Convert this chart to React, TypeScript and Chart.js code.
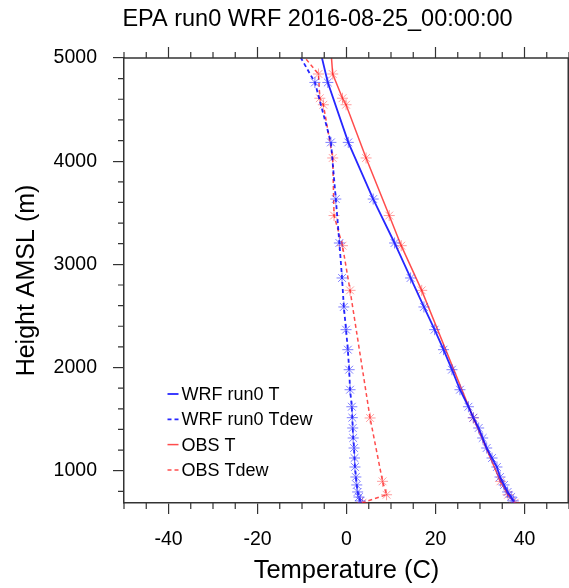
import React, { useEffect, useRef } from "react";
import { Chart, registerables } from "chart.js";

Chart.register(...registerables);

// ---- data ----
const chartTitle = "EPA run0 WRF 2016-08-25_00:00:00";
const xAxisTitle = "Temperature (C)";
const yAxisTitle = "Height AMSL (m)";

const xTickValues = [-40, -20, 0, 20, 40];
const yTickValues = [1000, 2000, 3000, 4000, 5000];

const wrfHeights = [5360, 4763, 4182, 3633, 3207, 2868, 2587, 2367, 2173, 1979, 1785, 1620, 1514, 1414, 1317, 1220, 1123, 1036, 939, 862, 794, 745, 707];
const wrfT = [-7.5, -4.2, 0.4, 6.0, 10.8, 14.4, 17.4, 19.8, 21.8, 23.7, 25.5, 27.4, 28.5, 29.7, 30.6, 31.5, 32.7, 33.8, 34.5, 35.4, 36.2, 37.0, 37.5];
const wrfTdew = [-15.0, -7.1, -3.5, -2.4, -1.6, -1.0, -0.6, -0.1, 0.3, 0.6, 0.8, 1.2, 1.3, 1.4, 1.5, 1.7, 1.8, 1.9, 2.1, 2.3, 2.5, 2.8, 3.1];

const obsHeights = [5300, 4845, 4610, 4547, 4031, 3473, 3181, 2748, 1511, 897, 767, 690];
const obsT = [-3.9, -3.1, -0.9, -0.1, 4.4, 9.6, 12.3, 16.9, 28.5, 34.6, 36.3, 37.8];
const obsTdew = [-15.1, -6.3, -6.0, -5.2, -3.1, -2.8, -0.9, 0.8, 5.3, 8.1, 9.0, 3.6];

const seriesLabels = ["WRF run0 T", "WRF run0 Tdew", "OBS T", "OBS Tdew"];

const FONT = "'Liberation Sans', Arial, Helvetica, sans-serif";

const toPoints = (xs: number[], hs: number[]) => hs.map((h, i) => ({ x: xs[i], y: h }));

const decorPlugin = {
  id: "decor",
  afterDraw(chart: any) {
    const ctx = chart.ctx;
    const { left, right, top, bottom } = chart.chartArea;
    const xs = chart.scales.x;
    const ys = chart.scales.y;
    ctx.save();
    ctx.strokeStyle = "#333";
    ctx.lineWidth = 1.5;
    // frame top/right
    ctx.beginPath();
    ctx.moveTo(left, top);
    ctx.lineTo(right, top);
    ctx.moveTo(right - 0.75, top);
    ctx.lineTo(right - 0.75, bottom);
    ctx.stroke();
    ctx.lineWidth = 1.2;
    ctx.beginPath();
    // x ticks: majors on top, minors top and bottom
    for (let v = -50; v <= 50; v += 5) {
      const px = xs.getPixelForValue(v);
      const major = v % 20 === 0;
      const len = major ? 11 : 6;
      ctx.moveTo(px, top);
      ctx.lineTo(px, top - len);
      if (!major) {
        ctx.moveTo(px, bottom);
        ctx.lineTo(px, bottom + len);
      }
    }
    // y ticks: minors left and right, majors right
    for (let v = 800; v <= 5000; v += 200) {
      const py = ys.getPixelForValue(v);
      const major = v % 1000 === 0;
      const len = major ? 11 : 6;
      ctx.moveTo(right, py);
      ctx.lineTo(right + len, py);
      if (!major) {
        ctx.moveTo(left, py);
        ctx.lineTo(left - len, py);
      }
    }
    ctx.stroke();

    // title
    ctx.fillStyle = "#000";
    ctx.font = `23.5px ${FONT}`;
    ctx.textAlign = "center";
    ctx.textBaseline = "middle";
    ctx.fillText(chartTitle, 317.5, 20);

    // legend
    ctx.font = `18px ${FONT}`;
    ctx.textAlign = "left";
    const x0 = 167.5, x1 = 178.5, tx = 181.5;
    chart.data.datasets.forEach((ds: any, i: number) => {
      const y = 394 + i * 25.3;
      ctx.save();
      ctx.strokeStyle = ds.borderColor;
      ctx.lineWidth = ds.borderWidth;
      ctx.setLineDash(ds.borderDash || []);
      ctx.beginPath();
      ctx.moveTo(x0, y);
      ctx.lineTo(x1, y);
      ctx.stroke();
      ctx.restore();
      ctx.fillStyle = "#000";
      ctx.fillText(ds.label, tx, y + 1);
    });
    ctx.restore();
  },
};

export default function App() {
  const ref = useRef<HTMLCanvasElement | null>(null);
  useEffect(() => {
    if (!ref.current) return;
    const blueLine = "rgba(0,0,255,0.85)";
    const blueMark = "rgba(40,40,255,0.6)";
    const redLine = "rgba(255,0,0,0.7)";
    const redMark = "rgba(255,40,40,0.45)";
    const common = {
      showLine: true,
      pointStyle: "star",
      pointRadius: 5.5,
      pointBorderWidth: 1,
      pointHoverRadius: 5.5,
      fill: false,
    };
    const chart = new Chart(ref.current, {
      type: "scatter",
      data: {
        datasets: [
          { ...common, label: seriesLabels[0], data: toPoints(wrfT, wrfHeights), borderColor: blueLine, borderWidth: 1.8, pointBorderColor: blueMark, pointBackgroundColor: blueMark },
          { ...common, label: seriesLabels[1], data: toPoints(wrfTdew, wrfHeights), borderColor: blueLine, borderWidth: 1.8, borderDash: [4, 3], pointBorderColor: blueMark, pointBackgroundColor: blueMark },
          { ...common, label: seriesLabels[2], data: toPoints(obsT, obsHeights), borderColor: redLine, borderWidth: 1.5, pointBorderColor: redMark, pointBackgroundColor: redMark },
          { ...common, label: seriesLabels[3], data: toPoints(obsTdew, obsHeights), borderColor: redLine, borderWidth: 1.5, borderDash: [4, 3], pointBorderColor: redMark, pointBackgroundColor: redMark },
        ] as any,
      },
      options: {
        responsive: false,
        animation: false,
        layout: { autoPadding: false, padding: { top: 58, right: 0, left: 0, bottom: 0 } },
        plugins: {
          legend: { display: false },
          tooltip: { enabled: false },
          title: { display: false },
        },
        scales: {
          x: {
            type: "linear",
            min: -50,
            max: 50,
            afterBuildTicks: (s: any) => {
              s.ticks = xTickValues.map((v) => ({ value: v }));
            },
            afterFit: (s: any) => {
              s.height = 85;
            },
            ticks: {
              color: "#000",
              font: { family: FONT, size: 19.5 },
              padding: 14,
              maxRotation: 0,
              autoSkip: false,
              callback: (v: any) => String(v),
            },
            grid: { drawOnChartArea: false, drawTicks: true, tickLength: 11, color: "#333", lineWidth: 1.2 },
            border: { display: true, color: "#333", width: 1.5 },
            title: { display: true, text: xAxisTitle, color: "#000", font: { family: FONT, size: 25.5 }, padding: { top: 0, bottom: 2 } },
          },
          y: {
            type: "linear",
            min: 687,
            max: 5000,
            afterBuildTicks: (s: any) => {
              s.ticks = yTickValues.map((v) => ({ value: v }));
            },
            afterFit: (s: any) => {
              s.width = 124;
            },
            ticks: {
              color: "#000",
              font: { family: FONT, size: 19.5 },
              padding: 16,
              autoSkip: false,
              callback: (v: any) => String(v),
            },
            grid: { drawOnChartArea: false, drawTicks: true, tickLength: 11, color: "#333", lineWidth: 1.2 },
            border: { display: true, color: "#333", width: 1.5 },
            title: { display: true, text: yAxisTitle, color: "#000", font: { family: FONT, size: 25 }, padding: { top: 12, bottom: 0 } },
          },
        },
      } as any,
      plugins: [decorPlugin],
    });
    return () => chart.destroy();
  }, []);
  return (
    <div style={{ position: "absolute", left: 0, top: 0, width: 569, height: 588, background: "#fff" }}>
      <canvas ref={ref} width={569} height={588} style={{ width: 569, height: 588 }} />
    </div>
  );
}
